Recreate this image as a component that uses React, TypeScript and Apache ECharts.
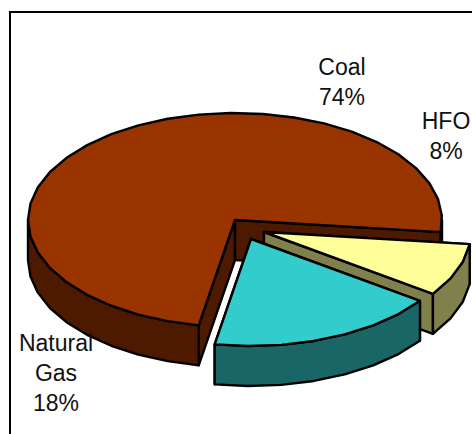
import React, { useEffect, useRef } from "react";
import * as echarts from "echarts";

// Generation mix by fuel, in percent
const fuels = ["Coal", "HFO", "Natural\nGas"];
const shares = [74, 8, 18];

const topColors = ["#993300", "#FFFF99", "#33CCCC"];
const sideColors = ["#4D1A00", "#80804D", "#1A6666"];

// Pull-out of each wedge from the pie centre
const explodeX = [0, 29, 16];
const explodeY = [0, 12, 19];

const labelX = [342, 446, 56];
const labelY = [82, 136, 373];

const WIDTH = 472;
const HEIGHT = 434;
const CX = 235;
const CY = 220;
const RX = 207;
const RY = 107;
const DEPTH = 40;
const START_DEG = 6.5;
const FACET_DEG = 9;

const OUTLINE = { stroke: "#000000", lineWidth: 2.4, lineJoin: "round" };

// Clockwise start angle of every wedge, drawn from the shares
const total = shares.reduce((a, b) => a + b, 0);

function wedgeSpan(index: number): [number, number] {
  // HFO follows the start angle, then Natural Gas, and Coal takes the rest of the turn
  const order = [1, 2, 0];
  let a = START_DEG;
  for (const i of order) {
    const sweep = (shares[i] / total) * 360;
    if (i === index) return [a, a + sweep];
    a += sweep;
  }
  return [a, a];
}

function rimPoint(deg: number, ox: number, oy: number, drop = 0): number[] {
  const t = (deg * Math.PI) / 180;
  return [CX + ox + RX * Math.cos(t), CY + oy + RY * Math.sin(t) + drop];
}

function arcPoints(a: number, b: number, ox: number, oy: number, drop = 0): number[][] {
  const pts: number[][] = [];
  const n = Math.max(1, Math.round((b - a) / FACET_DEG));
  for (let i = 0; i <= n; i++) pts.push(rimPoint(a + ((b - a) * i) / n, ox, oy, drop));
  return pts;
}

// Front-facing stretches of the rim: where sin(angle) is positive
function frontRanges(a: number, b: number): [number, number][] {
  const out: [number, number][] = [];
  for (let k = 0; k < 3; k++) {
    const lo = Math.max(a, k * 360);
    const hi = Math.min(b, k * 360 + 180);
    if (hi > lo) out.push([lo, hi]);
  }
  return out;
}

function renderWedge(params: any, api: any) {
  const i = params.dataIndex;
  const [a, b] = wedgeSpan(i);
  const ox = explodeX[i];
  const oy = explodeY[i];
  const apex = [CX + ox, CY + oy];
  const apexLow = [apex[0], apex[1] + DEPTH];
  const side = { fill: sideColors[i], ...OUTLINE };
  const children: any[] = [];

  const wall = (deg: number) => ({
    type: "polygon",
    shape: { points: [apex, rimPoint(deg, ox, oy), rimPoint(deg, ox, oy, DEPTH), apexLow] },
    style: side,
  });
  children.push(wall(a), wall(b));

  for (const [lo, hi] of frontRanges(a, b)) {
    children.push({
      type: "polygon",
      shape: { points: [...arcPoints(lo, hi, ox, oy), ...arcPoints(lo, hi, ox, oy, DEPTH).reverse()] },
      style: side,
    });
  }

  children.push({
    type: "polygon",
    shape: { points: [apex, ...arcPoints(a, b, ox, oy)] },
    style: { fill: api.visual("color"), ...OUTLINE },
  });

  return { type: "group", children };
}

export default function App() {
  const ref = useRef<HTMLDivElement>(null);

  useEffect(() => {
    const chart = echarts.init(ref.current!, undefined, { renderer: "svg" });
    chart.setOption({
      animation: false,
      backgroundColor: "#ffffff",
      graphic: [
        {
          type: "rect",
          shape: { x: 10, y: 12, width: 600, height: 600 },
          style: { fill: "none", stroke: "#000000", lineWidth: 2 },
          z: 0,
        },
        ...fuels.map((name, i) => ({
          type: "text",
          x: labelX[i],
          y: labelY[i],
          z: 10,
          style: {
            text: `${name}\n${shares[i]}%`,
            fill: "#111111",
            font: '23px "Liberation Sans", Arial, sans-serif',
            lineHeight: 30,
            align: "center",
            verticalAlign: "middle",
          },
        })),
      ],
      series: [
        {
          type: "custom",
          coordinateSystem: "none",
          renderItem: renderWedge,
          silent: true,
          z: 5,
          // Painted back to front: Coal, then HFO, then Natural Gas
          data: [0, 1, 2].map((i) => ({
            name: fuels[i],
            value: shares[i],
            itemStyle: { color: topColors[i] },
          })),
        },
      ],
    });
    return () => chart.dispose();
  }, []);

  return (
    <div
      ref={ref}
      style={{ position: "absolute", left: 0, top: 0, width: WIDTH, height: HEIGHT }}
    />
  );
}
